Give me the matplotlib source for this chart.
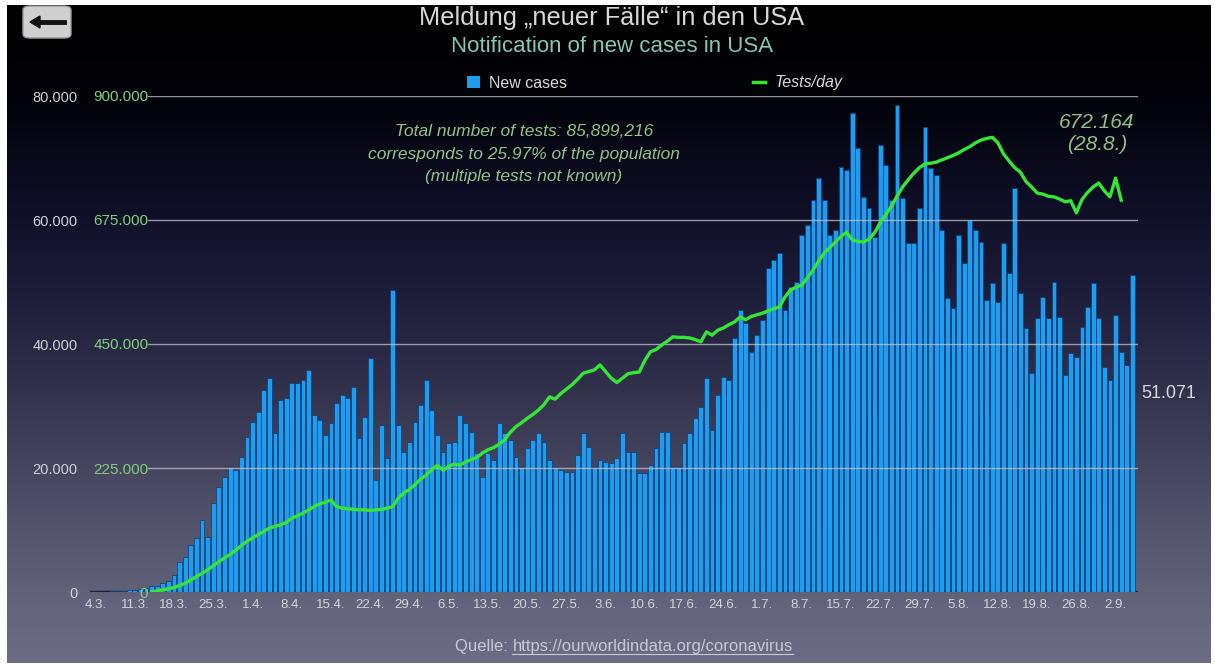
import matplotlib
matplotlib.use("Agg")
import matplotlib.pyplot as plt
import numpy as np
from matplotlib.colors import LinearSegmentedColormap
from matplotlib.patches import FancyBboxPatch, Patch
from matplotlib.lines import Line2D

W, H = 1215, 668

# x axis: one bar per day starting 4.3.
date_labels = ["4.3.", "11.3.", "18.3.", "25.3.", "1.4.", "8.4.", "15.4.", "22.4.",
               "29.4.", "6.5.", "13.5.", "20.5.", "27.5.", "3.6.", "10.6.", "17.6.",
               "24.6.", "1.7.", "8.7.", "15.7.", "22.7.", "29.7.", "5.8.", "12.8.",
               "19.8.", "26.8.", "2.9."]

# new cases per day, in thousands
new_cases = [
    0.03, 0.07, 0.06, 0.1, 0.12, 0.2, 0.3, 0.4, 0.5, 0.7, 0.9, 1.0, 1.5, 1.8,
    2.8, 4.8, 5.6, 7.6, 8.7, 11.6, 8.9, 14.4, 17.0, 18.5, 20.2, 19.6, 21.8, 25.0,
    27.4, 29.0, 32.6, 34.5, 25.6, 31.0, 31.3, 33.7,
    33.7, 34.2, 35.8, 28.5, 27.7, 25.3, 27.2, 30.5, 31.8, 31.3, 33.1, 24.8, 28.3,
    37.7, 18.1, 26.9, 21.6, 48.7, 26.9, 22.6, 24.2, 27.4, 30.2, 34.2, 29.4, 25.3,
    22.6, 24.0, 24.2, 28.5, 27.2, 25.8, 22.4, 18.5, 22.4, 21.3, 27.2, 25.6,
    24.5, 21.8, 20.2, 23.2, 24.5, 25.6, 24.2, 21.3, 20.2, 19.7, 19.4, 19.4, 22.1,
    25.6, 23.4, 20.2, 21.3, 21.0, 20.8, 21.6, 25.6, 22.6, 22.6, 19.2, 19.2, 20.5,
    23.2, 25.8, 25.8, 20.2, 20.2, 24.0, 25.6, 28.1, 29.8, 34.5,
    26.1, 31.8, 34.7, 34.2, 41.0, 45.5, 43.4, 38.7, 41.5, 43.9, 52.3, 53.5, 54.7,
    45.5, 49.2, 50.0, 57.6, 59.2, 63.2, 66.8, 63.2, 57.6, 58.4, 68.5, 68.1, 77.2,
    71.6, 63.7, 61.9, 57.3, 72.1, 68.9, 63.2, 78.5, 63.5, 56.3, 56.3, 61.9,
    75.0, 68.4, 67.3, 58.4, 47.4, 45.8, 57.6, 53.1, 60.0, 58.4, 56.5, 47.1, 49.8,
    46.8, 56.3, 51.5, 65.2, 48.2, 42.6, 35.3, 44.2, 47.6, 44.2, 50.0, 44.4, 35.0,
    38.5, 37.9, 42.7, 46.0, 49.8, 44.2, 36.3, 34.2, 44.7, 38.7, 36.6, 51.071,
]

# tests per day, in thousands, first value belongs to day 10 (14.3.)
tests_first_day = 10
tests = [
    0, 2, 4, 6, 8, 12, 16, 22, 28, 34, 40, 48, 55, 62, 68, 76, 84, 92, 98, 104,
    110, 116, 119, 122, 126, 134, 138, 143, 149, 155, 160, 163, 167, 155, 152,
    151, 150, 149, 149, 148, 149, 150, 152, 155, 170, 180, 186, 195, 205, 212,
    222, 230, 221, 228, 232, 230, 236, 240, 244, 252, 258, 262, 268, 276, 290,
    300, 307, 315, 322, 330, 340, 354, 350, 360, 368, 376, 386, 397, 400, 403,
    412, 400, 388, 380, 388, 396, 398, 399, 420, 436, 440, 448, 455, 463, 462,
    462, 461, 458, 454, 472, 466, 475, 479, 485, 490, 499, 494, 500, 503, 506,
    510, 514, 517, 535, 548, 553, 557, 570, 584, 600, 615, 625, 635, 645, 653,
    639, 636, 635, 640, 652, 670, 685, 700, 718, 735, 748, 760, 770, 777, 778,
    780, 784, 788, 792, 797, 803, 808, 815, 820, 823, 825, 815, 795, 782, 770,
    762, 745, 735, 724, 722, 718, 717, 713, 708, 710, 688, 712, 725, 735, 742,
    728, 717, 751, 711,
]

case_ticks = [0, 20, 40, 60, 80]
case_tick_labels = ["0", "20.000", "40.000", "60.000", "80.000"]
test_ticks = [0, 225, 450, 675, 900]
test_tick_labels = ["0", "225.000", "450.000", "675.000", "900.000"]

plt.rcParams["font.family"] = ["Liberation Sans", "DejaVu Sans"]

fig = plt.figure(figsize=(W / 100, H / 100), dpi=100, facecolor="white")


def fx(px):
    return px / W


def fy(py):
    return 1 - py / H


# background gradient panel
bg = fig.add_axes([fx(7), fy(663), fx(1211 - 7), (663 - 5) / H])
bg_cmap = LinearSegmentedColormap.from_list("bg", [
    (0.0, "#000000"), (0.15, "#03030b"), (0.30, "#0e0e26"), (0.45, "#1f1e3b"),
    (0.60, "#35344f"), (0.75, "#4e4d67"), (0.90, "#62627a"), (1.0, "#6c6c84")])
bg.imshow(np.linspace(0, 1, 256).reshape(-1, 1), aspect="auto", cmap=bg_cmap,
          extent=[0, 1, 0, 1], origin="upper")
bg.set_axis_off()

# main plot area
L, R, T, B = 90, 1138, 96, 592
ax = fig.add_axes([fx(L), fy(B), fx(R - L), (B - T) / H])
ax.set_facecolor("none")
days = np.arange(len(new_cases))
bars = ax.bar(days, new_cases, width=0.86, color="#1d9def", edgecolor="#0b3a74",
              linewidth=0.5, zorder=2)
ax.set_xlim(-1, len(new_cases))
ax.set_ylim(0, 80)
ax.axhline(0, color="#17203e", lw=2.5, zorder=1)
for v in case_ticks[1:]:
    ax.axhline(v, xmin=(148 - L) / (R - L), xmax=1, color="#c4c4cc", lw=1.0,
               alpha=0.75, zorder=3)

ax.set_xticks(np.arange(0, len(new_cases), 7))
ax.set_xticklabels(date_labels)
ax.tick_params(axis="x", length=0, pad=5, labelsize=9.5, colors="#d4d4dc")
ax.set_yticks(case_ticks)
ax.set_yticklabels(case_tick_labels)
ax.tick_params(axis="y", length=0, pad=9, labelsize=10.5, colors="#d0d0d6")
for s in ax.spines.values():
    s.set_visible(False)

ax2 = ax.twinx()
ax2.set_ylim(0, 900)
ax2.yaxis.tick_left()
ax2.set_yticks(test_ticks)
ax2.set_yticklabels(test_tick_labels)
ax2.tick_params(axis="y", length=0, pad=-42, labelsize=11, colors="#7ed07a")
for s in ax2.spines.values():
    s.set_visible(False)
tdays = np.arange(tests_first_day, tests_first_day + len(tests))
line, = ax2.plot(tdays, tests, color="#36e636", lw=2.4, zorder=5)

# legend
leg = ax.legend([Patch(facecolor="#1d9def"), Line2D([], [], color="#36e636", lw=2.5)],
                ["New cases", "Tests/day"], ncol=2, frameon=False,
                loc="center", bbox_to_anchor=(fx(655), fy(83)),
                bbox_transform=fig.transFigure, fontsize=11.5, handlelength=0.8,
                handleheight=0.8, columnspacing=11.6, handletextpad=0.6)
for t in leg.get_texts():
    t.set_color("#d8d8d8")
leg.get_texts()[1].set_style("italic")

# titles
fig.text(fx(612), fy(18), "Meldung \u201eneuer F\u00e4lle\u201c in den USA", ha="center",
         va="center", fontsize=18.3, color="#d8d8d8")
fig.text(fx(612), fy(46), "Notification of new cases in USA", ha="center",
         va="center", fontsize=16, color="#86c6b2")

# notes
ax.text((524 - L) / (R - L), (B - 154) / (B - T),
        "Total number of tests: 85,899,216\ncorresponds to 25.97% of the population\n(multiple tests not known)",
        transform=ax.transAxes, ha="center", va="center", fontsize=12.5,
        style="italic", color="#8fc38a", linespacing=1.6)
ax.text((1097 - L) / (R - L), (B - 133) / (B - T), "672.164\n(28.8.)",
        transform=ax.transAxes, ha="center", va="center", fontsize=15,
        style="italic", color="#8fbf88", linespacing=1.2)
ax.text((1141 - L) / (R - L), (B - 393) / (B - T), "51.071",
        transform=ax.transAxes, ha="left", va="center", fontsize=13,
        color="#d8d8dc")

# source line
src1 = fig.text(fx(455), fy(647), "Quelle: ", ha="left", va="center",
                fontsize=12, color="#c8c8d6")
fig.canvas.draw()
r = fig.canvas.get_renderer()
e1 = src1.get_window_extent(r)
src2 = fig.text(e1.x1 / W, fy(647), "https://ourworldindata.org/coronavirus",
                ha="left", va="center", fontsize=12, color="#c8c8d6")
fig.canvas.draw()
e2 = src2.get_window_extent(r)
fig.add_artist(Line2D([e2.x0 / W, e2.x1 / W], [(e2.y0 + 1) / H, (e2.y0 + 1) / H],
                      color="#c8c8d6", lw=0.8, transform=fig.transFigure))

# back button
fig.add_artist(FancyBboxPatch((fx(23), fy(38)), fx(48), 32 / H,
                              boxstyle="round,pad=0,rounding_size=0.006",
                              facecolor="#cfcfcf", edgecolor="#9a9a9a", lw=1,
                              transform=fig.transFigure))
fig.add_artist(Line2D([fx(38), fx(64)], [fy(22), fy(22)], color="#111111", lw=3.5,
                      transform=fig.transFigure))
fig.add_artist(plt.Polygon([[fx(30), fy(22)], [fx(40), fy(16)], [fx(40), fy(28)]],
                           closed=True, color="#111111", transform=fig.transFigure))

fig.savefig("out.png", dpi=100, facecolor="white")
